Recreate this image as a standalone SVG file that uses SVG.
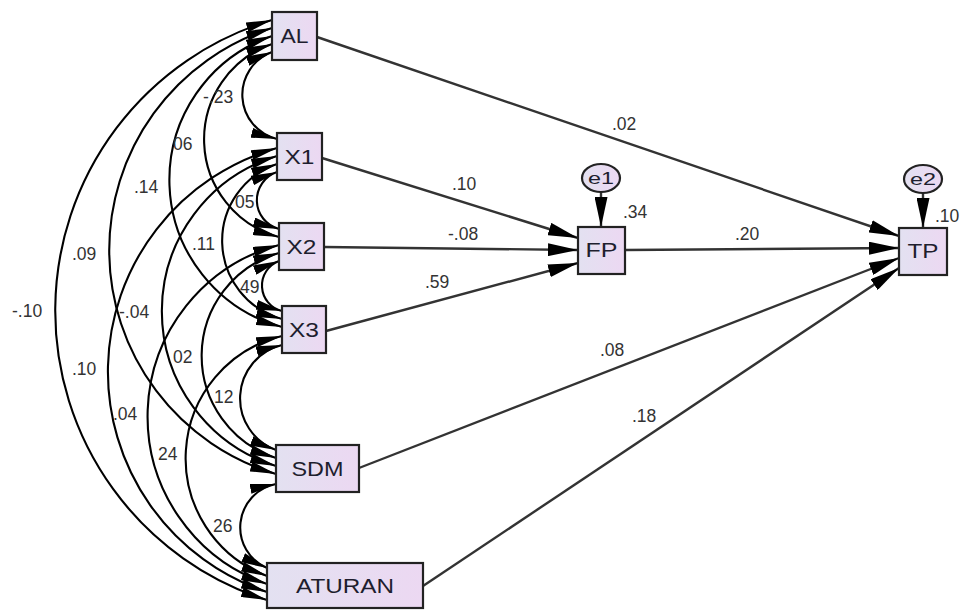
<svg xmlns="http://www.w3.org/2000/svg" width="960" height="610" viewBox="0 0 960 610">
<defs>
<linearGradient id="lav" x1="0" y1="0" x2="1" y2="0">
<stop offset="0" stop-color="#e3e1f1"/>
<stop offset="1" stop-color="#ecd8f2"/>
</linearGradient>
<marker id="ca" viewBox="0 0 26 10" refX="26" refY="5" markerWidth="26" markerHeight="10" markerUnits="userSpaceOnUse" orient="auto-start-reverse">
<path d="M0,0 L26,5 L0,10 z" fill="#000"/>
</marker>
<marker id="pa" viewBox="0 0 30 13" refX="30" refY="6.5" markerWidth="30" markerHeight="13" markerUnits="userSpaceOnUse" orient="auto">
<path d="M0,0 L30,6.5 L0,13 z" fill="#000"/>
</marker>
</defs>
<style>
.box{fill:url(#lav);stroke:#222;stroke-width:2.2}
.lbl{font-family:"Liberation Sans",Arial,sans-serif;font-size:20px;fill:#1e1e2e;text-anchor:middle}
.elbl{font-family:"Liberation Sans",Arial,sans-serif;font-size:17px;fill:#1e1e2e;text-anchor:middle}
.num{font-family:"Liberation Sans",Arial,sans-serif;font-size:17.5px;fill:#333}
.cov{fill:none;stroke:#000;stroke-width:2.1;marker-start:url(#ca);marker-end:url(#ca)}
.path{fill:none;stroke:#333;stroke-width:2.4;marker-end:url(#pa)}
</style>
<rect width="960" height="610" fill="#fff"/>

<g id="connectors">
<path class="cov" d="M272,52 A45.6,45.6 0 0 0 277,139"/>
<path class="cov" d="M272,44 A101,101 0 0 0 279,237"/>
<path class="cov" d="M272,36 A152.3,152.3 0 0 0 282,327"/>
<path class="cov" d="M272,28 A233.3,233.3 0 0 0 276,474"/>
<path class="cov" d="M272,20 A303.4,303.4 0 0 0 267,600"/>
<path class="cov" d="M277,172 A29.8,29.8 0 0 0 279,229"/>
<path class="cov" d="M277,164 A81.1,81.1 0 0 0 282,319"/>
<path class="cov" d="M277,156 A162.1,162.1 0 0 0 276,466"/>
<path class="cov" d="M277,148 A232.3,232.3 0 0 0 267,592"/>
<path class="cov" d="M279,261 A26.2,26.2 0 0 0 282,311"/>
<path class="cov" d="M279,253 A107.2,107.2 0 0 0 276,458"/>
<path class="cov" d="M279,245 A177.4,177.4 0 0 0 267,584"/>
<path class="cov" d="M282,345 A55,55 0 0 0 276,450"/>
<path class="cov" d="M282,336 A125.8,125.8 0 0 0 267,576"/>
<path class="cov" d="M276,484 A44.2,44.2 0 0 0 267,568"/>

<path class="path" d="M317,37 L899,236"/>
<path class="path" d="M322,158 L578,238"/>
<path class="path" d="M324,247 L578,250"/>
<path class="path" d="M326,331 L578,263"/>
<path class="path" d="M625,250 L899,248"/>
<path class="path" d="M359,468 L899,258"/>
<path class="path" d="M423,586 L899,268"/>
<path class="path" d="M601,192 L601,227"/>
<path class="path" d="M923,193 L923,228"/>

<text class="num" x="203" y="103">-.23</text>
<text class="num" x="173" y="150">06</text>
<text class="num" x="134" y="193">.14</text>
<text class="num" x="72" y="260">.09</text>
<text class="num" x="12" y="317">-.10</text>
<text class="num" x="235" y="208">05</text>
<text class="num" x="192" y="250">.11</text>
<text class="num" x="240" y="293">49</text>
<text class="num" x="119" y="318">-.04</text>
<text class="num" x="173" y="363">02</text>
<text class="num" x="72" y="375">.10</text>
<text class="num" x="214" y="403">12</text>
<text class="num" x="113" y="420">.04</text>
<text class="num" x="158" y="460">24</text>
<text class="num" x="213" y="532">26</text>
<text class="num" x="612" y="130">.02</text>
<text class="num" x="452" y="190">.10</text>
<text class="num" x="448" y="240">-.08</text>
<text class="num" x="425" y="288">.59</text>
<text class="num" x="735" y="240">.20</text>
<text class="num" x="600" y="356">.08</text>
<text class="num" x="632" y="422">.18</text>
</g>

<g id="AL"><rect class="box" x="272" y="12" width="45" height="48"/><text class="lbl" x="294.5" y="43" textLength="28" lengthAdjust="spacingAndGlyphs">AL</text></g>
<g id="X1"><rect class="box" x="277" y="133" width="45" height="47"/><text class="lbl" x="299.5" y="164" textLength="30" lengthAdjust="spacingAndGlyphs">X1</text></g>
<g id="X2"><rect class="box" x="279" y="223" width="45" height="47"/><text class="lbl" x="301.5" y="254" textLength="30" lengthAdjust="spacingAndGlyphs">X2</text></g>
<g id="X3"><rect class="box" x="282" y="306" width="44" height="47"/><text class="lbl" x="304" y="337" textLength="30" lengthAdjust="spacingAndGlyphs">X3</text></g>
<g id="SDM"><rect class="box" x="276" y="445" width="83" height="47"/><text class="lbl" x="317.5" y="476" textLength="52" lengthAdjust="spacingAndGlyphs">SDM</text></g>
<g id="ATURAN"><rect class="box" x="267" y="563" width="156" height="45"/><text class="lbl" x="345" y="593" textLength="98" lengthAdjust="spacingAndGlyphs">ATURAN</text></g>
<g id="FP"><rect class="box" x="578" y="227" width="47" height="47"/><text class="lbl" x="601.5" y="257" textLength="32" lengthAdjust="spacingAndGlyphs">FP</text><text class="num" x="623" y="218">.34</text></g>
<g id="TP"><rect class="box" x="899" y="228" width="48" height="47"/><text class="lbl" x="923" y="258" textLength="31" lengthAdjust="spacingAndGlyphs">TP</text><text class="num" x="935" y="222">.10</text></g>
<g id="e1"><ellipse class="box" cx="601" cy="178" rx="19" ry="14"/><text class="elbl" x="601" y="184" textLength="26" lengthAdjust="spacingAndGlyphs">e1</text></g>
<g id="e2"><ellipse class="box" cx="923" cy="179" rx="19" ry="14"/><text class="elbl" x="923" y="185" textLength="26" lengthAdjust="spacingAndGlyphs">e2</text></g>
</svg>
